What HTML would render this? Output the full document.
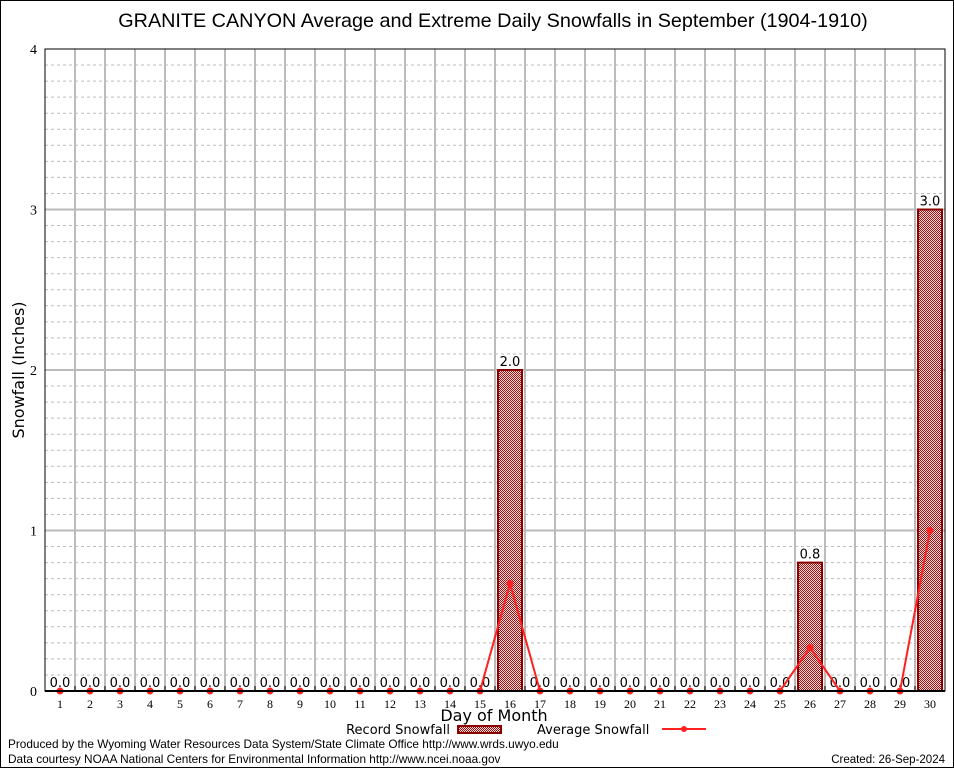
<!DOCTYPE html>
<html><head><meta charset="utf-8"><style>
body{margin:0;background:#fff;}
</style></head><body>
<svg id="chart" width="954" height="768" xmlns="http://www.w3.org/2000/svg" font-family="DejaVu Sans, Liberation Sans, sans-serif">
<defs>
<pattern id="hatch" width="2" height="2" patternUnits="userSpaceOnUse">
<rect width="2" height="2" fill="#f4dcdc"/>
<rect width="1" height="1" fill="#a01010"/><rect x="1" y="1" width="1" height="1" fill="#a01010"/>
</pattern>
</defs>
<rect x="0.5" y="0.5" width="953" height="767" fill="#fff" stroke="#000"/>
<text x="493" y="27" font-size="19.8" text-anchor="middle" font-family="Liberation Sans, sans-serif">GRANITE CANYON Average and Extreme Daily Snowfalls in September (1904-1910)</text>
<g id="grid"></g>
<g id="bars"></g>
<g id="avg"></g>
<g id="axes"></g>
<text x="24" y="370" font-size="16" text-anchor="middle" transform="rotate(-90 24 370)">Snowfall (Inches)</text>
<text x="494" y="721" font-size="16" text-anchor="middle">Day of Month</text>
<g>
<text x="450" y="734" font-size="13" text-anchor="end">Record Snowfall</text>
<rect x="458" y="726" width="43" height="7" fill="url(#hatch)" stroke="#8b0000" stroke-width="2"/>
</g>
<g>
<text x="537" y="734" font-size="13">Average Snowfall</text>
<line x1="662" y1="729" x2="706" y2="729" stroke="#ff2020" stroke-width="2"/>
<circle cx="684" cy="729" r="3" fill="#ff2020"/>
</g>
<text x="8" y="748" font-size="11.8" font-family="Liberation Sans, sans-serif">Produced by the Wyoming Water Resources Data System/State Climate Office http://www.wrds.uwyo.edu</text>
<text x="8" y="763" font-size="11.8" font-family="Liberation Sans, sans-serif">Data courtesy NOAA National Centers for Environmental Information http://www.ncei.noaa.gov</text>
<text x="945" y="763" font-size="11.5" text-anchor="end" font-family="Liberation Sans, sans-serif">Created:  26-Sep-2024</text>
</svg>
<script>
const days=[1,2,3,4,5,6,7,8,9,10,11,12,13,14,15,16,17,18,19,20,21,22,23,24,25,26,27,28,29,30];
const recordSnow=[0,0,0,0,0,0,0,0,0,0,0,0,0,0,0,2.0,0,0,0,0,0,0,0,0,0,0.8,0,0,0,3.0];
const avgSnow=[0,0,0,0,0,0,0,0,0,0,0,0,0,0,0,0.67,0,0,0,0,0,0,0,0,0,0.27,0,0,0,1.0];
const yTicks=[0,1,2,3,4];
const NS="http://www.w3.org/2000/svg";
const L=45,R=945,T=49,B=691,yMax=4;
function xs(d){return L+(d-0.5)*(R-L)/30;}
function ys(v){return B-v*(B-T)/yMax;}
function mk(tag,attrs,parent){const e=document.createElementNS(NS,tag);for(const k in attrs)e.setAttribute(k,attrs[k]);document.getElementById(parent).appendChild(e);return e;}
for(let i=1;i<40;i++){if(i%10===0)continue;const y=ys(i/10);
const g=mk('line',{x1:L,x2:R,y1:y,y2:y,stroke:'#bbb','stroke-dasharray':'3,3','stroke-width':1},'grid');

}
for(let v=1;v<=3;v++){const y=ys(v);
const g=mk('line',{x1:L,x2:R,y1:y,y2:y,stroke:'#bbb','stroke-width':2},'grid');

}
for(let d=1;d<30;d++){const x=(xs(d)+xs(d+1))/2;
const g=mk('line',{x1:x,x2:x,y1:T,y2:B,stroke:'#bbb','stroke-width':2},'grid');

}
days.forEach((d,i)=>{const v=recordSnow[i];
if(v>0){const b=mk('rect',{x:xs(d)-12,y:ys(v),width:24,height:B-ys(v),fill:'url(#hatch)',stroke:'#8b0000','stroke-width':2},'bars');

}
const t=mk('text',{x:xs(d),y:ys(v)-4,'font-size':13,'text-anchor':'middle'},'bars');t.textContent=v.toFixed(1);

});
const pl=mk('polyline',{points:days.map((d,i)=>xs(d)+','+ys(avgSnow[i])).join(' '),fill:'none',stroke:'#ff2020','stroke-width':2},'avg');


days.forEach((d,i)=>{const c=mk('circle',{cx:xs(d),cy:ys(avgSnow[i]),r:3.5,fill:'#ff2020'},'avg');

});
const fr=mk('rect',{x:L,y:T,width:R-L,height:B-T,fill:'none',stroke:'#000','stroke-width':1},'axes');


const xa=mk('line',{x1:L,x2:R,y1:B,y2:B,stroke:'#000','stroke-width':2},'axes');


yTicks.forEach(v=>{const t=mk('text',{x:L-8,y:ys(v)+5,'font-size':14,'text-anchor':'end','font-family':'Liberation Serif, serif'},'axes');t.textContent=v;

});
days.forEach(d=>{const t=mk('text',{x:xs(d),y:B+17,'font-size':12,'text-anchor':'middle','font-family':'Liberation Serif, serif'},'axes');t.textContent=d;


const tk=mk('line',{x1:xs(d)+15,x2:xs(d)+15,y1:B,y2:B-5,stroke:'#000'},'axes');

});
</script>
</body></html>
